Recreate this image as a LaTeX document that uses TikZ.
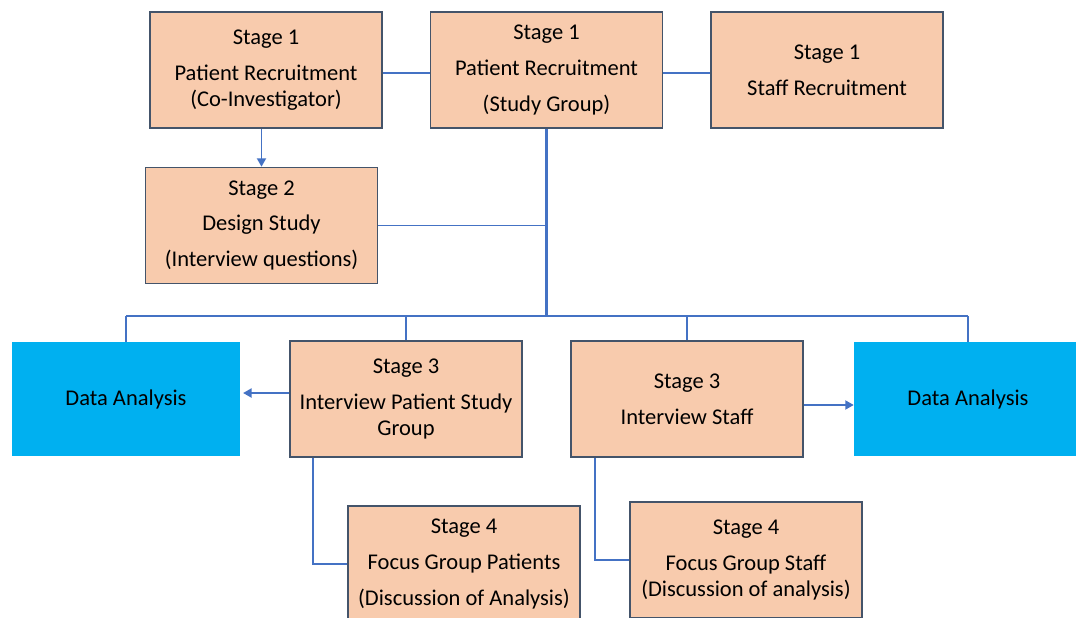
\documentclass[tikz,border=0pt]{standalone}
\usepackage{fontspec}
\setmainfont{Carlito}
\usepackage{tikz}
\usetikzlibrary{arrows.meta,positioning,calc}
\definecolor{peach}{HTML}{F8CBAD}
\definecolor{edgeblue}{HTML}{44546A}
\definecolor{linkblue}{HTML}{4472C4}
\definecolor{anacyan}{HTML}{00B0F0}
\tikzset{
  stagebox/.style={draw=edgeblue, fill=peach, line width=1.1pt, minimum width=5.8cm, minimum height=2.9cm, align=center, inner sep=0pt, font=\fontsize{16}{18.4}\selectfont},
  anabox/.style={fill=anacyan, minimum width=5.7cm, minimum height=2.85cm, inner sep=0pt, font=\fontsize{16}{18.4}\selectfont},
  link/.style={draw=linkblue, line width=1.1pt},
  trunk/.style={link, line width=1.8pt},
  linkarr/.style={link, -{Triangle[length=6pt,width=6.5pt]}}
}
\begin{document}
\begin{tikzpicture}[x=0.025cm, y=-0.025cm]
\useasboundingbox (0,0) rectangle (1076,617);
\node[stagebox] (b1) at (266,70) {Stage 1\\[0.25cm] Patient Recruitment\\ (Co-Investigator)};
\node[stagebox] (b2) at (546.5,70) {Stage 1\\[0.25cm] Patient Recruitment\\[0.25cm] (Study Group)};
\node[stagebox] (b3) at (827,70) {Stage 1\\[0.25cm] Staff Recruitment};
\node[stagebox] (b4) at (261.5,225.5) {Stage 2\\[0.25cm] Design Study\\[0.25cm] (Interview questions)};
\node[anabox] (da1) at (126,399) {Data Analysis};
\node[stagebox] (b5) at (406,399) {Stage 3\\[0.25cm] Interview Patient Study\\ Group};
\node[stagebox] (b6) at (687,399) {Stage 3\\[0.25cm] Interview Staff};
\node[anabox] (da2) at (968,399) {Data Analysis};
\node[stagebox] (b7) at (464,564) {Stage 4\\[0.25cm] Focus Group Patients\\[0.25cm] (Discussion of Analysis)};
\node[stagebox] (b8) at (746,560) {Stage 4\\[0.25cm] Focus Group Staff\\ (Discussion of analysis)};
\coordinate (bus) at (546.5,316);
\draw[link] ([yshift=-0.08cm]b1.east) -- ([yshift=-0.08cm]b2.west);
\draw[link] ([yshift=-0.08cm]b2.east) -- ([yshift=-0.08cm]b3.west);
\draw[linkarr] (b4.north |- b1.south) -- (b4.north);
\draw[trunk] (b2.south) -- (bus);
\draw[link] (b4.east) -- (b4.east -| bus);
\draw[link] (da1.north |- bus) -- (da2.north |- bus);
\foreach \n in {da1,b5,b6,da2}
  \draw[link] (\n.north |- bus) -- (\n.north);
\draw[linkarr, shorten >=2pt] ([yshift=0.15cm]b5.west) -- ([yshift=0.15cm]b5.west -| da1.east);
\draw[linkarr] ([yshift=-0.15cm]b6.east) -- ([yshift=-0.15cm]b6.east -| da2.west);
\draw[link] ([xshift=0.6cm]b5.south west) |- (b7.west);
\draw[link] ([xshift=0.625cm]b6.south west) |- (b8.west);
\end{tikzpicture}
\end{document}
